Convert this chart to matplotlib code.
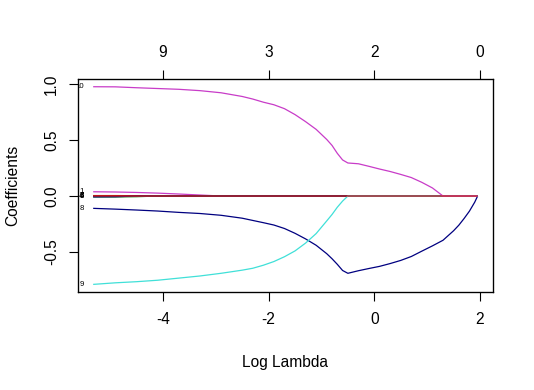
import matplotlib
matplotlib.use("Agg")
import matplotlib.pyplot as plt

plt.rcParams['font.family'] = ['Liberation Sans', 'DejaVu Sans']

# lambda grid (log scale)
log_lambda = [-5.32, -4.9, -4.5, -4.1, -3.7, -3.3, -2.9, -2.5, -2.3, -2.1, -1.9, -1.7,
              -1.5, -1.3, -1.1, -0.9, -0.8, -0.7, -0.6, -0.5, -0.3, -0.1, 0.1, 0.3,
              0.5, 0.7, 0.9, 1.1, 1.3, 1.5, 1.6, 1.7, 1.8, 1.9, 1.955]

coef_1 = [0.038, 0.036, 0.032, 0.026, 0.018, 0.009] + [0.0] * 29
coef_2 = [0.002, 0.002, 0.002, 0.0] + [0.0] * 31
coef_3 = [0.004, 0.004, 0.003, 0.002, 0.0] + [0.0] * 30
coef_4 = [-0.004, -0.004, -0.003, -0.002, 0.0] + [0.0] * 30
coef_5 = [-0.008, -0.008, -0.006, 0.0] + [0.0] * 31
coef_6 = [-0.007, -0.006, 0.0] + [0.0] * 32
coef_7 = [0.001, 0.001, 0.0] + [0.0] * 32
coef_8 = [-0.110, -0.117, -0.125, -0.134, -0.146, -0.156, -0.172, -0.198, -0.218, -0.238,
          -0.259, -0.290, -0.333, -0.383, -0.440, -0.515, -0.560, -0.610, -0.665, -0.690,
          -0.667, -0.647, -0.628, -0.603, -0.575, -0.540, -0.492, -0.445, -0.395, -0.310,
          -0.260, -0.200, -0.135, -0.055, 0.0]
coef_9 = [-0.789, -0.775, -0.765, -0.752, -0.733, -0.714, -0.690, -0.662, -0.645, -0.618,
          -0.585, -0.542, -0.490, -0.420, -0.335, -0.222, -0.165, -0.100, -0.045, 0.0] + [0.0] * 15
coef_10 = [0.976, 0.975, 0.967, 0.960, 0.953, 0.941, 0.922, 0.889, 0.866, 0.838,
           0.815, 0.780, 0.727, 0.664, 0.595, 0.505, 0.452, 0.381, 0.322, 0.295,
           0.288, 0.265, 0.241, 0.219, 0.193, 0.165, 0.122, 0.072, 0.0] + [0.0] * 6

var_labels = ["1", "2", "3", "4", "5", "6", "7", "8", "9", "10"]
colors = ["#C83CC8", "#A0A0A0", "#8B0000", "#000000", "#228B22", "#000080", "#DD2222",
          "#000080", "#40E0D8", "#C83CC8"]

top_ticks = [-4, -2, 0, 2]
top_labels = ["9", "3", "2", "0"]

xticks = [-4, -2, 0, 2]
xtick_labels = ["-4", "-2", "0", "2"]
yticks = [-0.5, 0.0, 0.5, 1.0]
ytick_labels = ["-0.5", "0.0", "0.5", "1.0"]

fig = plt.figure(figsize=(5.34, 3.90), dpi=100)
ax = fig.add_axes([78/534, 1 - 292/390, (493-78)/534, (292-79)/390])

series = [coef_1, coef_2, coef_3, coef_4, coef_5, coef_6, coef_7, coef_8, coef_9, coef_10]
order = [0, 1, 2, 3, 4, 5, 7, 8, 9, 6]
for i in order:
    ax.plot(log_lambda, series[i], color=colors[i], lw=0.9, solid_capstyle='butt')

for i, s in enumerate(series):
    ax.text(-5.50, s[0], var_labels[i], fontsize=5.6, ha='right', va='center',
            clip_on=True, color='black')

ax.set_xlim(-5.607, 2.246)
ax.set_ylim(-0.857, 1.045)

fs = 11.2
ax.set_xticks(xticks)
ax.set_xticklabels(xtick_labels)
ax.set_yticks(yticks)
ax.set_yticklabels(ytick_labels, rotation=90, va='center')
ax.tick_params(axis='x', direction='out', length=6.5, width=0.8, labelsize=fs, pad=8)
ax.tick_params(axis='y', direction='out', length=6.5, width=0.8, labelsize=fs, pad=7)
for sp in ax.spines.values():
    sp.set_linewidth(0.9)

ax.set_xlabel("Log Lambda", fontsize=fs, labelpad=20)
ax.set_ylabel("Coefficients", fontsize=fs, labelpad=17)

ax2 = ax.twiny()
ax2.set_xlim(ax.get_xlim())
ax2.set_xticks(top_ticks)
ax2.set_xticklabels(top_labels)
ax2.tick_params(axis='x', direction='out', length=6.5, width=0.8, labelsize=fs, pad=7)

fig.savefig("out.png", dpi=100)
